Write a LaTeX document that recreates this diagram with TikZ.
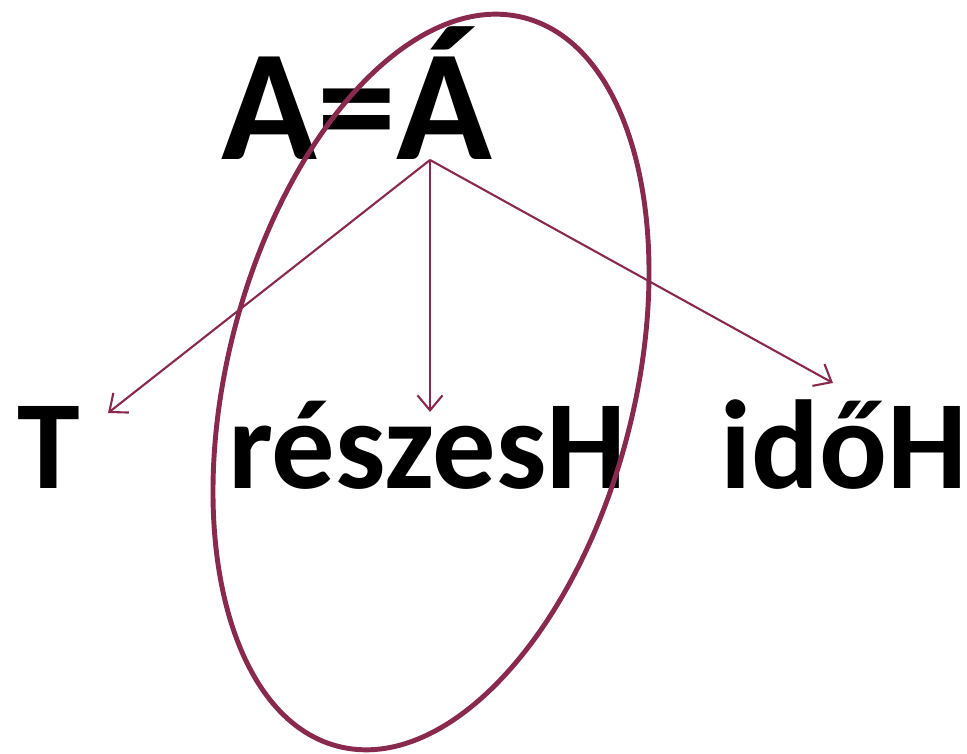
\documentclass[tikz,border=0pt]{standalone}
\usepackage{fontspec}
\setmainfont{Carlito}
\usetikzlibrary{arrows.meta}
\definecolor{plum}{RGB}{137,41,78}

\begin{document}
\begin{tikzpicture}[
  x=1cm,y=1cm,
  big/.style={inner sep=0pt, anchor=base, font=\bfseries\fontsize{90}{90}\selectfont},
  word/.style={inner sep=0pt, anchor=base, font=\bfseries\fontsize{72}{72}\selectfont},
  arr/.style={-{Straight Barb[length=3mm,width=5mm]}, plum, line width=1.2pt},
  ring/.style={draw=plum, line width=2.8pt}
]
\useasboundingbox (0,0) rectangle (19.34,15.06);
\node[big] (eq) at (7.14,11.86) {A=Á};
\node[word] (t) at (0.98,5.30) {T};
\node[word] (reszes) at (8.55,5.30) {részesH};
\node[word] (ido) at (16.87,5.30) {időH};
\coordinate (fork) at (8.6,11.86);
\coordinate (tend) at (2.16,6.80);
\coordinate (rend) at (8.6,6.82);
\coordinate (iend) at (16.66,7.40);
\draw[arr] (fork) -- (tend);
\draw[arr] (fork) -- (rend);
\draw[arr] (fork) -- (iend);
\draw[ring] (8.62,7.42) ellipse[x radius=4.07cm, y radius=7.52cm, rotate=-14.3];
\end{tikzpicture}
\end{document}
